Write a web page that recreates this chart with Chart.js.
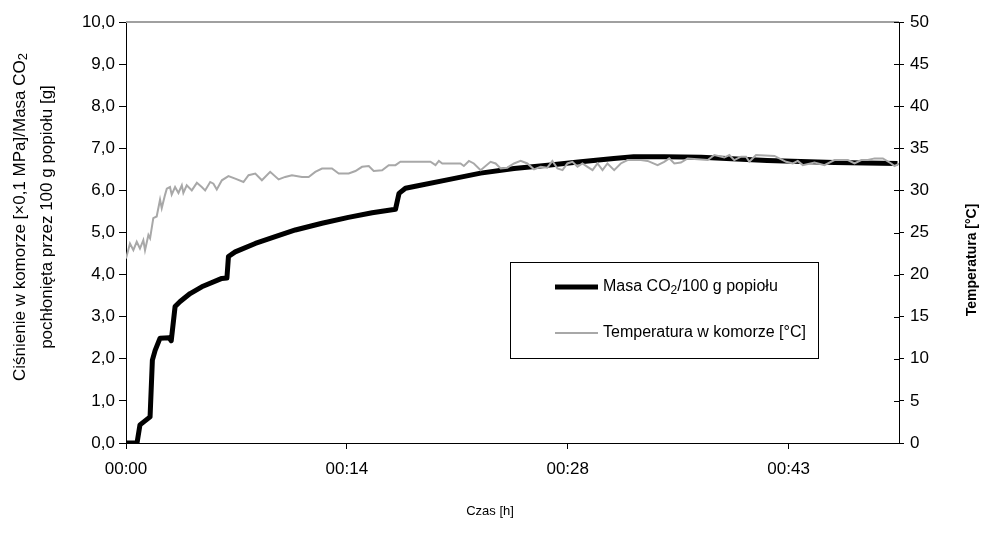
<!DOCTYPE html>
<html>
<head>
<meta charset="utf-8">
<script src="https://cdn.jsdelivr.net/npm/chart.js"></script>
<style>
  body { margin: 0; background: #fff; }
</style>
</head>
<body>
<canvas id="myChart" width="984" height="546"></canvas>
<script>
// czas w minutach
var massTime  = [0, 0.72, 0.91, 1.57, 1.72, 1.9, 2.22, 2.81, 2.95, 3.2, 3.53, 4.18, 4.94, 6.25, 6.58, 6.68, 7.12, 8.43, 9.73, 11.04, 12.78, 14.5, 16.05, 17.57, 17.8, 18.22, 18.87, 20.94, 23.12, 25.3, 27.5, 29.65, 31.8, 33.1, 35.1, 37.5, 41.8, 46.2, 50.3];
var massValue = [0, 0, 0.43, 0.62, 1.97, 2.2, 2.49, 2.5, 2.43, 3.24, 3.36, 3.55, 3.71, 3.91, 3.92, 4.43, 4.54, 4.74, 4.9, 5.06, 5.22, 5.36, 5.47, 5.55, 5.93, 6.05, 6.1, 6.25, 6.41, 6.52, 6.6, 6.68, 6.76, 6.8, 6.8, 6.79, 6.71, 6.66, 6.64];

var tempTime  = [0, 0.26, 0.48, 0.7, 0.91, 1.13, 1.24, 1.46, 1.57, 1.78, 2.0, 2.22, 2.33, 2.55, 2.66, 2.87, 2.98, 3.2, 3.42, 3.64, 3.74, 3.96, 4.29, 4.62, 4.94, 5.16, 5.49, 5.7, 5.92, 6.25, 6.68, 7.12, 7.66, 7.99, 8.43, 8.86, 9.4, 9.95, 10.38, 10.82, 11.47, 11.91, 12.34, 12.78, 13.43, 13.87, 14.52, 14.96, 15.39, 15.83, 16.15, 16.7, 17.13, 17.57, 17.89, 18.87,
                 19.85, 20.18, 20.4, 20.62, 21.81, 22.03, 22.36, 22.68, 23.12, 23.77, 24.1, 24.43, 24.86, 25.3, 25.73, 26.17, 26.6, 27.04, 27.47, 27.8, 28.13, 28.46, 28.78, 29.11, 29.44, 29.76, 30.09, 30.42, 30.74, 31.07, 31.39, 31.83, 32.26, 32.7, 33.57, 34.01, 34.66, 35.09, 35.42, 35.75, 36.18,
                 36.62, 37.93, 38.36, 39.01, 39.34, 39.66, 40.1, 40.43, 40.64, 41.08, 42.28, 43.04, 43.48, 43.8, 44.13, 44.89, 45.54, 46.19, 47.07, 47.5, 47.94, 48.37, 48.81, 49.35, 49.89, 50.11, 50.44];
var tempValue = [21.9, 23.7, 22.9, 23.9, 23.1, 24.1, 22.9, 24.7, 24.3, 26.7, 26.9, 28.9, 27.9, 29.5, 30.2, 30.4, 29.5, 30.4, 29.7, 30.6, 29.7, 30.6, 30.0, 30.9, 30.4, 30.0, 31.0, 30.8, 30.1, 31.2, 31.7, 31.4, 31.0, 31.8, 32.0, 31.2, 32.2, 31.3, 31.6, 31.8, 31.6, 31.6, 32.2, 32.6, 32.6, 32.0, 32.0, 32.3, 32.8, 32.9, 32.3, 32.4, 33.0, 33.0, 33.4, 33.4,
                 33.4, 33.0, 33.5, 33.2, 33.2, 32.9, 33.5, 33.2, 32.4, 33.4, 33.2, 32.6, 32.7, 33.2, 33.5, 33.2, 32.5, 32.8, 32.7, 33.5, 32.6, 32.4, 33.2, 33.4, 32.8, 33.2, 32.8, 32.4, 33.2, 32.4, 33.2, 32.4, 33.2, 33.6, 33.6, 33.5, 33.0, 33.4, 33.8, 33.2, 33.3,
                 33.8, 33.6, 34.2, 33.9, 34.2, 33.6, 34.0, 34.0, 33.4, 34.2, 34.1, 33.4, 33.2, 33.5, 33.0, 33.3, 33.0, 33.6, 33.6, 33.2, 33.6, 33.6, 33.8, 33.8, 33.2, 32.9, 33.2];

// podziałka osi czasu: 0,01 doby = 14,4 min
var xTicks = [0, 14.4, 28.8, 43.2];

var FONT = "'Liberation Sans', Arial, sans-serif";

function pts(xs, ys) {
  return xs.map(function (x, i) { return { x: x, y: ys[i] }; });
}

function hhmm(v) {
  var m = Math.floor(v + 1e-6);
  var h = Math.floor(m / 60);
  m = m % 60;
  return (h < 10 ? '0' : '') + h + ':' + (m < 10 ? '0' : '') + m;
}

// tekst z indeksem dolnym (znak ₂ rysowany jako mniejsza, obniżona dwójka)
function richText(c, str, x, y, size, align) {
  var parts = str.split('₂');
  var subSize = Math.round(size * 0.78);
  var segs = [];
  parts.forEach(function (p, i) {
    if (p) segs.push({ t: p, sub: false });
    if (i < parts.length - 1) segs.push({ t: '2', sub: true });
  });
  var w = 0;
  segs.forEach(function (s) {
    c.font = (s.sub ? subSize : size) + 'px ' + FONT;
    s.w = c.measureText(s.t).width;
    w += s.w;
  });
  var px = align === 'center' ? x - w / 2 : x;
  c.textAlign = 'left';
  segs.forEach(function (s) {
    c.font = (s.sub ? subSize : size) + 'px ' + FONT;
    c.fillText(s.t, px, s.sub ? y + size * 0.22 : y);
    px += s.w;
  });
}

var decor = {
  id: 'decor',
  beforeDatasetsDraw: function (chart) {
    var c = chart.ctx, a = chart.chartArea;
    c.save();
    c.strokeStyle = '#a0a0a0';
    c.lineWidth = 2;
    c.beginPath();
    c.moveTo(a.left, a.top);
    c.lineTo(a.right, a.top);
    c.stroke();
    // krzyżowe znaczniki na prawej osi
    var y2 = chart.scales.y2;
    c.strokeStyle = '#000';
    c.lineWidth = 1;
    y2.ticks.forEach(function (t) {
      var py = Math.round(y2.getPixelForValue(t.value)) + 0.5;
      c.beginPath();
      c.moveTo(a.right - 5, py);
      c.lineTo(a.right, py);
      c.stroke();
    });
    c.restore();
  },
  afterDraw: function (chart) {
    var c = chart.ctx;
    c.save();
    c.fillStyle = '#000';
    c.textBaseline = 'middle';

    // tytuł lewej osi
    c.save();
    c.translate(20, 217);
    c.rotate(-Math.PI / 2);
    richText(c, 'Ciśnienie w komorze [×0,1 MPa]/Masa CO₂', 0, 0, 17, 'center');
    richText(c, 'pochłonięta przez 100 g popiołu [g]', 0, 27, 17, 'center');
    c.restore();

    // tytuł prawej osi
    c.save();
    c.translate(972, 260);
    c.rotate(-Math.PI / 2);
    c.textAlign = 'center';
    c.font = 'bold 14px ' + FONT;
    c.fillText('Temperatura [°C]', 0, 0);
    c.restore();

    // tytuł osi x
    c.textAlign = 'center';
    c.font = '13px ' + FONT;
    c.fillText('Czas [h]', 490, 511);

    // legenda
    c.strokeStyle = '#000';
    c.lineWidth = 1;
    c.strokeRect(510.5, 262.5, 308, 96);
    var rows = [287, 333];
    chart.data.datasets.forEach(function (ds, i) {
      c.strokeStyle = ds.borderColor;
      c.lineWidth = ds.borderWidth;
      c.beginPath();
      c.moveTo(555, rows[i]);
      c.lineTo(598, rows[i]);
      c.stroke();
      richText(c, ds.label, 603, rows[i], 16, 'left');
    });
    c.restore();
  }
};

new Chart(document.getElementById('myChart'), {
  type: 'line',
  data: {
    datasets: [{
      label: 'Masa CO₂/100 g popiołu',
      data: pts(massTime, massValue),
      yAxisID: 'y',
      borderColor: '#000',
      borderWidth: 5,
      borderJoinStyle: 'round',
      pointRadius: 0,
      order: 2
    }, {
      label: 'Temperatura w komorze [°C]',
      data: pts(tempTime, tempValue),
      yAxisID: 'y2',
      borderColor: '#a8a8a8',
      borderWidth: 2,
      pointRadius: 0,
      order: 1
    }]
  },
  options: {
    responsive: false,
    animation: false,
    layout: { padding: { top: 22, left: 0, right: 0, bottom: 0 } },
    plugins: {
      legend: { display: false },
      tooltip: { enabled: false }
    },
    scales: {
      x: {
        type: 'linear',
        min: 0,
        max: 50.4,
        afterBuildTicks: function (s) { s.ticks = xTicks.map(function (v) { return { value: v }; }); },
        afterFit: function (s) { s.height = 103; },
        grid: { drawOnChartArea: false, color: '#000', tickLength: 6 },
        border: { color: '#000', width: 1 },
        ticks: {
          color: '#000',
          font: { family: FONT, size: 17 },
          padding: 10,
          maxRotation: 0,
          callback: function (v) { return hhmm(v); }
        }
      },
      y: {
        position: 'left',
        min: 0,
        max: 10,
        afterFit: function (s) { s.width = 126; },
        grid: { drawOnChartArea: false, color: '#000', tickLength: 7 },
        border: { color: '#000', width: 1 },
        ticks: {
          stepSize: 1,
          color: '#000',
          font: { family: FONT, size: 17 },
          padding: 4,
          callback: function (v) { return v.toFixed(1).replace('.', ','); }
        }
      },
      y2: {
        position: 'right',
        min: 0,
        max: 50,
        afterFit: function (s) { s.width = 85; },
        grid: { drawOnChartArea: false, color: '#000', tickLength: 5 },
        border: { color: '#000', width: 1 },
        ticks: {
          stepSize: 5,
          color: '#000',
          font: { family: FONT, size: 17 },
          padding: 6
        }
      }
    }
  },
  plugins: [decor]
});
</script>
</body>
</html>
